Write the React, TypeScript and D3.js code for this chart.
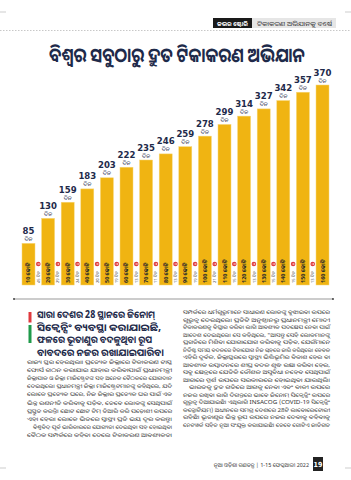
import React, { Component } from 'react';
import * as d3 from 'd3';

// days taken to reach each milestone
const days = [85, 130, 159, 183, 203, 222, 235, 246, 259, 278, 299, 314, 327, 342, 357, 370];
const milestones = ['10 କୋଟି', '20 କୋଟି', '30 କୋଟି', '40 କୋଟି', '50 କୋଟି', '60 କୋଟି', '70 କୋଟି', '80 କୋଟି',
  '90 କୋଟି', '100 କୋଟି', '110 କୋଟି', '120 କୋଟି', '130 କୋଟି', '140 କୋଟି', '150 କୋଟି', '160 କୋଟି'];
const gapDays = [45, 29, 24, 20, 19, 13, 11, 13, 19, 21, 15, 13, 15, 15, 13];

const title = 'ବିଶ୍ୱର ସବୁଠାରୁ ଦ୍ରୁତ ଟିକାକରଣ ଅଭିଯାନ';
const headline = [
  'ସାରା ଦେଶର 28 ସ୍ଥାନରେ ଜିନୋମ୍',
  'ସିକ୍ୱେନ୍ସିଂ ବ୍ୟବସ୍ଥା କରାଯାଇଛି,',
  'ଫଳରେ ଭୂତାଣୁର ବଦଳୁଥିବା ରୂପ',
  'ବାବଦରେ ନଜର ରଖାଯାଇପାରିବ।',
];
const headlineWidths = [118, 124, 115, 127];
const leftBody = [
  'ରାଜ୍ୟ ସ୍ତର ହେଉଥିଲା। ପ୍ରତ୍ୟେକ ଜିଲ୍ଲାରେ ଟିକାକରଣ ଟାସ୍କ',
  'ଫୋର୍ସ ଗଠନ କରାଯାଇ ଯାହାର କରିବାପାଇଁ ପ୍ରଧାନମନ୍ତ୍ରୀ',
  'ଜିଲ୍ଲାପାଳ ଓ ଜିଲ୍ଲା ମାଜିଷ୍ଟ୍ରେଟଙ୍କ ସହ ଅନେକ ବୈଠକରେ ଯୋଗଦାନ',
  'ଦେଇଥିଲେ। ପ୍ରଧାନମନ୍ତ୍ରୀ ଜିଲ୍ଲା ମାଜିଷ୍ଟ୍ରେଟମାନଙ୍କୁ କହିଥିଲେ, ଯଦି',
  'ଲୋକେ ପ୍ରତ୍ୟେକ ଘରେ, ନିଜ ଜିଲ୍ଲାର ପ୍ରତ୍ୟେକ ଘର ପାଇଁ ଏକ',
  'ଭିନ୍ନ ରଣନୀତି କରିବାକୁ ପଡ଼ିବ, ତେବେ ଲୋକଙ୍କୁ ସେଥିପାଇଁ',
  'ପ୍ରସ୍ତୁତ କରନ୍ତି। ଛୋଟ ଛୋଟ ଟିମ୍ ତିଆରି କରି ପଡ଼ୋଶୀ ଉପରେ',
  'ଏହା ହେଉ। ଲୋକେ ଭିତରେ ସ୍ୱାସ୍ଥ୍ୟ ପ୍ରତି ଭୟ ଦୂର କରନ୍ତୁ।',
  'ଵିଶ୍ୱବିଦ୍ ପୂର୍ବ ଭାରିକାରରେ ଯୋଗ୍ୟତା ଦେଇଥିବା ସହ ହୋଇଥିବା',
  'ବୈଠକ ସମ୍ପର୍କରେ କହିବା ଦେଲେ ଟିକାକରଣ ଆବଶ୍ୟକତା',
];
const rightBody = [
  'ସମ୍ପର୍କରେ ଧର୍ମଗୁରୁମାନେ ସାଧାରଣ ଲୋକଙ୍କୁ ବୁଝାଇବା ଉପରେ',
  'ଗୁରୁତ୍ୱ ଦେଉଥିଲେ। ପ୍ରତିଟି ଅନୁଷ୍ଠାନରୁ ପ୍ରଧାନମନ୍ତ୍ରୀ ମୋଦୀ',
  'ଟିକାକରଣକୁ ବିସ୍ତାର କରିବା ଲାଗି ଆବଶ୍ୟକ ପଦକ୍ଷେପ ନେବା ପାଇଁ',
  'ଆଦେଶ ଦେଇଥିଲେ। ସେ କହିଥିଲେ, "ଆସନ୍ତୁ ସେହି ଲୋକମାନଙ୍କୁ',
  'ପ୍ରଗତିରେ ମିଶିବା ଯୋଗାଯୋଗ କରିବାକୁ ପଡ଼ିବ, ଯେଉଁମାନେ',
  'ନିର୍ଦ୍ଦିଷ୍ଟ ସମୟ ବଦଳରେ ଟିକାଯୋଗ ନିଜ ଗୃହରେ ଜାରି କରିଥିଲେ। କେବଳ',
  'ଏହିରି ଦୁର୍ବଳ, ଜିଲ୍ଲାସ୍ତରରେ ସ୍ୱାସ୍ଥ୍ୟ ଭିତ୍ତିଭୂମିର ବିକାଶ ହେଉ ବା',
  'ଆବଶ୍ୟକ ଉତ୍ପାଦନରେ ଶୀଘ୍ର ବଦଳ ଶୁଦ୍ଧ ରକ୍ଷା କରିବା ହେଉ,',
  'ସବୁ କ୍ଷେତ୍ରରେ ଯେତିକି କୌଶଳ ଅସୁବିଧା ନହେବ ସେଥିପାଇଁ',
  'ଆଗରେ ସ୍ପର୍ଶ ଉପରେ ସରକାରରେ ହୋଇଥିବା ଯାଉଥିଲି।',
  'ଭାରତକୁ ଦ୍ରୁତ ଗତିରେ ଆଗକୁ ନେବା ଏବଂ ବାକୀ ଉପରେ',
  'ନଜର ରଖିବା ଲାଗି ଦିଗନ୍ତରେ ଭାବେ ଜିନୋମ୍ ସିକ୍ୱେନ୍ସିଂ ଉପରେ',
  'ଗୁରୁତ୍ୱ ଦିଆଯାଇଛି। ଏଥିଲାଗି INSACOG (COVID-19 ସିକ୍ୱେନ୍ସିଂ',
  'କନ୍ସୋର୍ଟିୟମ୍) ଅଧୀନରେ ସମଗ୍ର ଦେଶରେ 28ଟି ଲାବୋରେଟୋରୀ',
  'ରହିଛି।  ଭୂତାଣୁର ଭିନ୍ନ ରୂପ ଉପରେ ନଜର ଦେବାକୁ ବହିବାକୁ',
  'ନେଟୱର୍କ ସହିତ ନୂଆ ସଂଯୁକ୍ତ କରାଯାଇଛି। ତେବେ ଗୋଟିଏ ଜାତିଗତ',
];

const odia = "'Noto Sans Oriya', 'Noto Sans', 'DejaVu Sans', sans-serif";
const narrow = "'Liberation Sans Narrow', 'DejaVu Sans Condensed', 'Roboto', sans-serif";
const navy = '#1e2a4a';
const gold = '#f0b412';

class App extends Component {
  chRef: React.RefObject<HTMLDivElement>;

  constructor(props: {}) {
    super(props);
    this.chRef = React.createRef();
  }

  componentDidMount() {
    document.body.style.margin = '0';
    this.drawChart();
  }

  drawChart() {
    const width = 351;
    const height = 480;
    const root = d3.select(this.chRef.current);
    root.selectAll('*').remove();

    const svg = root
      .append('svg')
      .attr('width', width)
      .attr('height', height)
      .style('display', 'block')
      .style('background', '#fff');

    // header strip
    svg.append('line')
      .attr('x1', 0).attr('x2', width).attr('y1', 30.5).attr('y2', 30.5)
      .attr('stroke', '#c8c8c8').attr('stroke-dasharray', '1.5,1.5');
    svg.append('rect').attr('x', 213).attr('y', 18).attr('width', 39).attr('height', 10).attr('fill', '#1a1a1a');
    svg.append('rect').attr('x', 252).attr('y', 18).attr('width', 84).attr('height', 10).attr('fill', '#e6e6e6');
    svg.append('text').attr('x', 217).attr('y', 25.5)
      .attr('font-family', odia).attr('font-size', 6).attr('font-weight', 'bold').attr('fill', '#fff')
      .attr('textLength', 31).attr('lengthAdjust', 'spacingAndGlyphs')
      .text('କଭର ଷ୍ଟୋରି');
    svg.append('text').attr('x', 257).attr('y', 25.5)
      .attr('font-family', odia).attr('font-size', 6).attr('fill', '#333')
      .attr('textLength', 75).attr('lengthAdjust', 'spacingAndGlyphs')
      .text('ଟିକାକରଣ ଅଭିଯାନକୁ ବର୍ଷେ');

    // corner marks
    [[0, 12, 6, 12], [345, 12, 351, 12], [0, 468, 6, 468], [345, 468, 351, 468]].forEach(([a, b, c, d]) => {
      svg.append('line').attr('x1', a).attr('y1', b).attr('x2', c).attr('y2', d)
        .attr('stroke', '#999').attr('stroke-width', 0.5);
    });

    // title, squeezed horizontally to the printed width
    const titleText = svg.append('text')
      .attr('text-anchor', 'middle')
      .attr('font-family', odia).attr('font-size', 20).attr('font-weight', 'bold')
      .attr('fill', navy)
      .text(title);
    const natural = (titleText.node() as SVGTextElement).getComputedTextLength() || 256;
    titleText.attr('transform', `translate(177,62) scale(${Math.min(1, 256 / natural)},1)`);

    // bars
    const baseline = 285;
    const x = d3.scaleBand<number>()
      .domain(d3.range(days.length))
      .range([22, 329])
      .paddingInner(0.337)
      .paddingOuter(0);
    const y = d3.scaleLinear().domain([10, 370]).range([baseline, 85]);

    const g = svg.append('g');
    g.selectAll('rect.bar')
      .data(days)
      .enter()
      .append('rect')
      .attr('class', 'bar')
      .attr('x', (d, i) => x(i))
      .attr('y', d => y(d))
      .attr('width', x.bandwidth())
      .attr('height', d => baseline - y(d))
      .attr('fill', gold)
      .attr('stroke', '#f7d77a')
      .attr('stroke-width', 0.5);

    // value labels
    g.selectAll('text.val')
      .data(days)
      .enter()
      .append('text')
      .attr('class', 'val')
      .attr('x', (d, i) => x(i) + x.bandwidth() / 2)
      .attr('y', d => y(d) - 9.5)
      .attr('text-anchor', 'middle')
      .attr('font-family', narrow)
      .attr('font-weight', 'bold')
      .attr('font-size', 9.5)
      .attr('fill', navy)
      .text(d => d);
    g.selectAll('text.unit')
      .data(days)
      .enter()
      .append('text')
      .attr('class', 'unit')
      .attr('x', (d, i) => x(i) + x.bandwidth() / 2)
      .attr('y', d => y(d) - 2.5)
      .attr('text-anchor', 'middle')
      .attr('font-family', odia)
      .attr('font-size', 5.5)
      .attr('fill', navy)
      .text('ଦିନ');

    // milestone labels inside bars
    g.selectAll('text.ms')
      .data(milestones)
      .enter()
      .append('text')
      .attr('class', 'ms')
      .attr('transform', (d, i) => `translate(${x(i) + x.bandwidth() / 2 + 2},${baseline - 2}) rotate(-90)`)
      .attr('font-family', odia)
      .attr('font-weight', 'bold')
      .attr('font-size', 5.5)
      .attr('fill', '#2b2b2b')
      .text(d => d);

    // gaps between milestones
    const gaps = g.selectAll('g.gap')
      .data(gapDays)
      .enter()
      .append('g')
      .attr('class', 'gap')
      .attr('transform', (d, i) => `translate(${(x(i) + x.bandwidth() + x(i + 1)) / 2},0)`);
    gaps.append('circle').attr('cy', 264).attr('r', 2.3).attr('fill', '#e03a3e');
    gaps.append('path').attr('d', 'M-1.2,264 L1.2,264 M0.2,263 L1.2,264 L0.2,265')
      .attr('stroke', '#fff').attr('stroke-width', 0.5).attr('fill', 'none');
    gaps.append('text')
      .attr('transform', `translate(1.6,${baseline - 2}) rotate(-90)`)
      .attr('font-family', odia)
      .attr('font-size', 4.2)
      .attr('fill', '#444')
      .text(d => `${d} ଦିନ`);

    // rule under chart
    svg.append('line').attr('x1', 14).attr('x2', 333).attr('y1', 299).attr('y2', 299)
      .attr('stroke', '#555').attr('stroke-width', 0.6);
    svg.append('circle').attr('cx', 14).attr('cy', 299).attr('r', 0.9).attr('fill', '#333');
    svg.append('circle').attr('cx', 333).attr('cy', 299).attr('r', 0.9).attr('fill', '#333');

    // highlighted quote
    svg.append('rect').attr('x', 28.5).attr('y', 312).attr('width', 3).attr('height', 10.5).attr('fill', '#e03a3e');
    svg.append('rect').attr('x', 28.5).attr('y', 325).attr('width', 3).attr('height', 18).attr('fill', '#1f9a4a');
    svg.append('g').selectAll('text')
      .data(headline)
      .enter()
      .append('text')
      .attr('x', 37)
      .attr('y', (d, i) => 318 + i * 12.5)
      .attr('font-family', odia)
      .attr('font-weight', 'bold')
      .attr('font-size', 10)
      .attr('fill', navy)
      .attr('textLength', (d, i) => headlineWidths[i])
      .attr('lengthAdjust', 'spacingAndGlyphs')
      .text(d => d);

    // body columns
    const body = (lines: string[], x0: number, y0: number, w: number, lh: number, indentAt: number) => {
      svg.append('g').selectAll('text')
        .data(lines)
        .enter()
        .append('text')
        .attr('x', (d, i) => (i === indentAt ? x0 + 6 : x0))
        .attr('y', (d, i) => y0 + i * lh)
        .attr('font-family', odia)
        .attr('font-size', 5.2)
        .attr('fill', '#333')
        .attr('textLength', (d, i) => (i === indentAt ? w - 6 : w))
        .attr('lengthAdjust', 'spacingAndGlyphs')
        .text(d => d);
    };
    body(leftBody, 27, 364, 145, 8.1, 8);
    body(rightBody, 183, 314, 147, 7.5, 10);

    // footer
    svg.append('text').attr('x', 309).attr('y', 466.5).attr('text-anchor', 'end')
      .attr('font-family', odia).attr('font-size', 5.5).attr('fill', '#333')
      .text('ନୂଆ ଓଡ଼ିଶା ଗଣତନ୍ତ୍ର | 1-15 ଫେବୃଆରୀ 2022');
    svg.append('rect').attr('x', 313).attr('y', 457).attr('width', 10).attr('height', 14).attr('fill', '#222');
    svg.append('text').attr('x', 318).attr('y', 466.5).attr('text-anchor', 'middle')
      .attr('font-family', narrow).attr('font-weight', 'bold').attr('font-size', 7).attr('fill', '#fff')
      .text('19');
  }

  render() {
    return <>
      <div ref={this.chRef}></div>
    </>;
  }
}

export default App;
